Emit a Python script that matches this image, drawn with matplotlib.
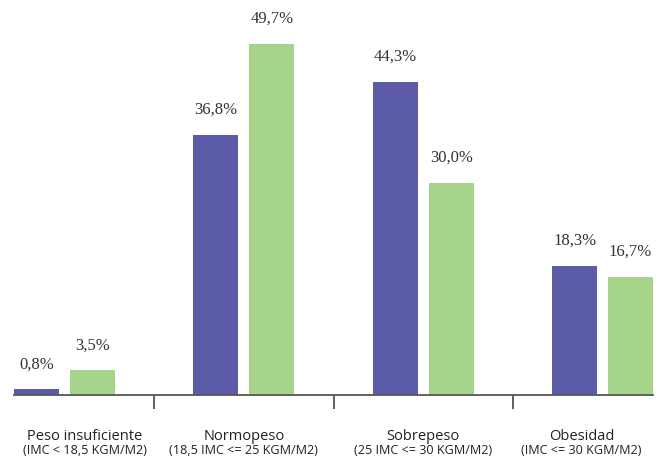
import matplotlib
matplotlib.use("Agg")
import matplotlib.pyplot as plt
import matplotlib.transforms as mtransforms
import numpy as np

categories = ["Peso insuficiente", "Normopeso", "Sobrepeso", "Obesidad"]
subtitles = ["(IMC < 18,5 KGM/M2)", "(18,5 IMC <= 25 KGM/M2)",
             "(25 IMC <= 30 KGM/M2)", "(IMC <= 30 KGM/M2)"]
series_a = [0.8, 36.8, 44.3, 18.3]
series_b = [3.5, 49.7, 30.0, 16.7]

c_a = "#5B5BA8"
c_b = "#A5D48A"

fig = plt.figure(figsize=(6.6, 4.57), dpi=100)
ax = fig.add_axes([14/660, 1-395/457, (653-14)/660, 395/457])

x = np.arange(len(categories))
w = 0.25
off = 0.156
ba = ax.bar(x - off, series_a, w, color=c_a)
bb = ax.bar(x + off, series_b, w, color=c_b)

ax.set_xlim(-0.281, 3.281)
ax.set_ylim(0, 55.9)

def fmt(v):
    return f"{v:.1f}".replace(".", ",") + "%"

for bars, vals in ((ba, series_a), (bb, series_b)):
    for r, v in zip(bars, vals):
        ax.annotate(fmt(v), (r.get_x() + r.get_width()/2, r.get_height()),
                    xytext=(0, 18), textcoords="offset points",
                    ha="center", va="center", fontsize=12,
                    family="Liberation Serif", color="#333333")

for s in ["top", "right", "left"]:
    ax.spines[s].set_visible(False)
ax.spines["bottom"].set_color("#555555")
ax.spines["bottom"].set_linewidth(1.3)
ax.set_yticks([])
ax.set_xticks(x[:-1] + 0.5)
ax.set_xticklabels([])
ax.tick_params(axis="x", length=10, width=1.2, color="#444444", direction="out")

trans = mtransforms.blended_transform_factory(ax.transData, fig.transFigure)
shift = [0.114, 0.0, 0.0, -0.117]
for i, (c, s) in enumerate(zip(categories, subtitles)):
    xp = x[i] + shift[i]
    fig.text(xp, 1-436/457, c, transform=trans, ha="center", va="center",
             fontsize=10.5, family="Open Sans", color="#222222")
    fig.text(xp, 1-450/457, s, transform=trans, ha="center", va="center",
             fontsize=9.1, family="Open Sans", color="#222222")

fig.savefig("out.png", dpi=100)
